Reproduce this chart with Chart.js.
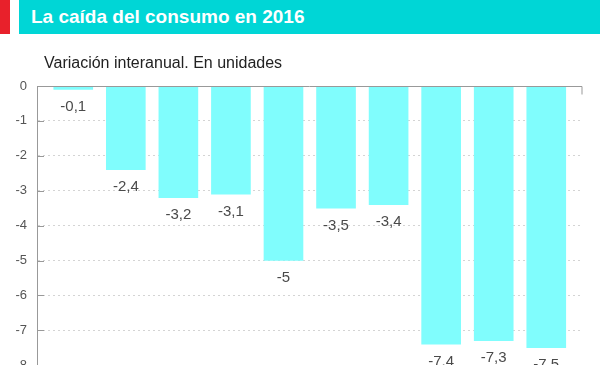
<!DOCTYPE html>
<html>
<head>
<meta charset="utf-8">
<script src="https://cdn.jsdelivr.net/npm/chart.js@4.4.0/dist/chart.umd.min.js"></script>
<style>
  body { margin: 0; width: 600px; height: 365px; overflow: hidden; background: #fff; font-family: "Liberation Sans", Arial, sans-serif; }
  #wrap { position: absolute; left: 0; top: 0; width: 600px; height: 383px; }
  #red { position: absolute; left: 0; top: 0; width: 10px; height: 34px; background: #e8212b; }
  #banner { position: absolute; left: 19px; top: 0; width: 581px; height: 34px; background: #00d6d6; }
  #title { position: absolute; left: 31px; top: 6px; color: #fff; font-weight: bold; font-size: 19px; white-space: nowrap; }
  #sub { position: absolute; left: 44px; top: 54px; color: #222; font-size: 16px; white-space: nowrap; }
</style>
</head>
<body>
<div id="wrap"><canvas id="myChart" width="600" height="383"></canvas></div>
<div id="red"></div>
<div id="banner"></div>
<div id="title">La caída del consumo en 2016</div>
<div id="sub">Variación interanual. En unidades</div>

<script>
var categories = ["Ene", "Feb", "Mar", "Abr", "May", "Jun", "Jul", "Ago", "Sep", "Oct"];
var values = [-0.1, -2.4, -3.2, -3.1, -5, -3.5, -3.4, -7.4, -7.3, -7.5];
var yTicks = [0, -1, -2, -3, -4, -5, -6, -7, -8];

function fmt(v) {
  return String(v).replace(".", ",");
}

// ticks pointing into the plot, end tick on the zero line and value labels
var extras = {
  id: "extras",
  afterDatasetsDraw: function(chart) {
    var ctx = chart.ctx;
    var area = chart.chartArea;
    var y = chart.scales.y;
    ctx.save();
    ctx.strokeStyle = "#999";
    ctx.lineWidth = 1;
    yTicks.forEach(function(t) {
      var py = Math.round(y.getPixelForValue(t)) + 0.5;
      ctx.beginPath();
      ctx.moveTo(area.left, py);
      ctx.lineTo(area.left + 7, py);
      ctx.stroke();
    });
    var y0 = Math.round(y.getPixelForValue(0)) + 0.5;
    ctx.beginPath();
    ctx.moveTo(area.left, y0);
    ctx.lineTo(area.right, y0);
    ctx.lineTo(area.right, y0 + 8);
    ctx.stroke();

    ctx.fillStyle = "#4a4a4a";
    ctx.font = "15px 'Liberation Sans', Arial, sans-serif";
    ctx.textAlign = "center";
    ctx.textBaseline = "top";
    var meta = chart.getDatasetMeta(0);
    meta.data.forEach(function(bar, i) {
      ctx.fillText(fmt(values[i]), bar.x, bar.y + 10);
    });
    ctx.restore();
  }
};

new Chart("myChart", {
  type: "bar",
  data: {
    labels: categories,
    datasets: [{
      data: values.map(function(v, i) { return {x: i, y: v}; }),
      backgroundColor: "#80fdfd",
      borderWidth: 0,
      barThickness: 39
    }]
  },
  options: {
    responsive: false,
    animation: false,
    layout: {padding: {top: 86, right: 18, bottom: 8, left: 0}},
    plugins: {
      legend: {display: false},
      tooltip: {enabled: false}
    },
    scales: {
      x: {
        type: "linear",
        min: -0.69,
        max: 9.68,
        offset: false,
        display: false
      },
      y: {
        min: -8,
        max: 0,
        afterFit: function(s) { s.width = 37; },
        ticks: {
          stepSize: 1,
          padding: 10,
          color: "#555",
          font: {size: 13, family: "'Liberation Sans', Arial, sans-serif"},
          callback: function(v) { return String(v); }
        },
        grid: {
          drawTicks: false,
          color: function(c) { return c.tick && c.tick.value === 0 ? "rgba(0,0,0,0)" : "#d4d4d4"; }
        },
        border: {
          display: true,
          color: "#999",
          width: 1,
          dash: [2, 3]
        }
      }
    }
  },
  plugins: [extras]
});
</script>
</body>
</html>
